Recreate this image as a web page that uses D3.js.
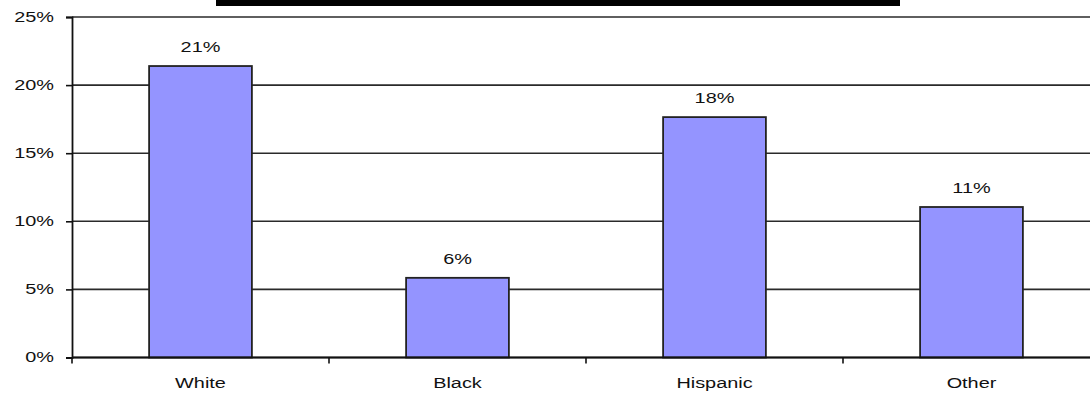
<!DOCTYPE html>
<html>
<head>
<meta charset="utf-8">
<script src="https://cdn.jsdelivr.net/npm/d3@7"></script>
<style>
  html, body { margin: 0; padding: 0; background: #fff; }
  svg { display: block; }
  text { font-family: "Liberation Sans", Arial, sans-serif; font-size: 14px; fill: #111; }
</style>
</head>
<body>
<svg id="chart" width="1090" height="394"></svg>
<script>
// Share of each group (percent)
const categories = ["White", "Black", "Hispanic", "Other"];
const values = [21.4, 5.85, 17.65, 11.05];
const yTicks = [0, 5, 10, 15, 20, 25];

const svg = d3.select("#chart");
const plotLeft = 72, plotTop = 17, plotBottom = 357.5;
const band = 257;
const stretch = 1.42; // wide, stretched lettering

const x = d3.scaleBand()
  .domain(categories)
  .range([plotLeft, plotLeft + band * categories.length])
  .paddingInner(0.6)
  .paddingOuter(0.3);

const y = d3.scaleLinear().domain([0, 25]).range([plotBottom, plotTop]);

// Places a horizontally stretched text label
function label(sel, px, py) {
  sel.attr("transform", (d, i) => `translate(${px(d, i)},${py(d, i)}) scale(${stretch},1)`);
}

// Redaction bar across the top
svg.append("rect")
  .attr("x", 216).attr("y", 0)
  .attr("width", 684).attr("height", 6)
  .attr("fill", "#000");

// Horizontal gridlines
svg.append("g")
  .selectAll("line")
  .data(yTicks)
  .join("line")
  .attr("x1", plotLeft).attr("x2", 1090)
  .attr("y1", d => y(d)).attr("y2", d => y(d))
  .attr("stroke", "#2a2a2a")
  .attr("stroke-width", 1.6);

// Y axis
const yAxis = d3.axisLeft(y)
  .tickValues(yTicks)
  .tickSize(6)
  .tickFormat("");
const gy = svg.append("g").attr("transform", `translate(${plotLeft},0)`).call(yAxis);
gy.select(".domain").attr("stroke", "#111").attr("stroke-width", 1.8);
gy.selectAll(".tick line").attr("stroke", "#111").attr("stroke-width", 1.6);

svg.append("g")
  .selectAll("text")
  .data(yTicks)
  .join("text")
  .attr("text-anchor", "end")
  .attr("dy", "0.35em")
  .text(d => d + "%")
  .call(label, () => 54, d => y(d));

// Bars
svg.append("g")
  .selectAll("rect")
  .data(categories)
  .join("rect")
  .attr("x", d => x(d))
  .attr("y", (d, i) => y(values[i]))
  .attr("width", x.bandwidth())
  .attr("height", (d, i) => y(0) - y(values[i]))
  .attr("fill", "#9494ff")
  .attr("stroke", "#222")
  .attr("stroke-width", 1.8);

// Value labels
svg.append("g")
  .selectAll("text")
  .data(categories)
  .join("text")
  .attr("text-anchor", "middle")
  .text((d, i) => d3.format(".0f")(values[i]) + "%")
  .call(label, d => x(d) + x.bandwidth() / 2, (d, i) => y(values[i]) - 14);

// X axis with ticks between categories
const boundaries = d3.range(categories.length + 1).map(i => plotLeft + band * i);
svg.append("line")
  .attr("x1", plotLeft).attr("x2", 1090)
  .attr("y1", plotBottom).attr("y2", plotBottom)
  .attr("stroke", "#111").attr("stroke-width", 1.8);
svg.append("g")
  .selectAll("line")
  .data(boundaries)
  .join("line")
  .attr("x1", d => d).attr("x2", d => d)
  .attr("y1", plotBottom).attr("y2", plotBottom + 6)
  .attr("stroke", "#111").attr("stroke-width", 1.6);

svg.append("g")
  .selectAll("text")
  .data(categories)
  .join("text")
  .attr("text-anchor", "middle")
  .text(d => d)
  .call(label, d => x(d) + x.bandwidth() / 2, () => 388);
</script>
</body>
</html>
